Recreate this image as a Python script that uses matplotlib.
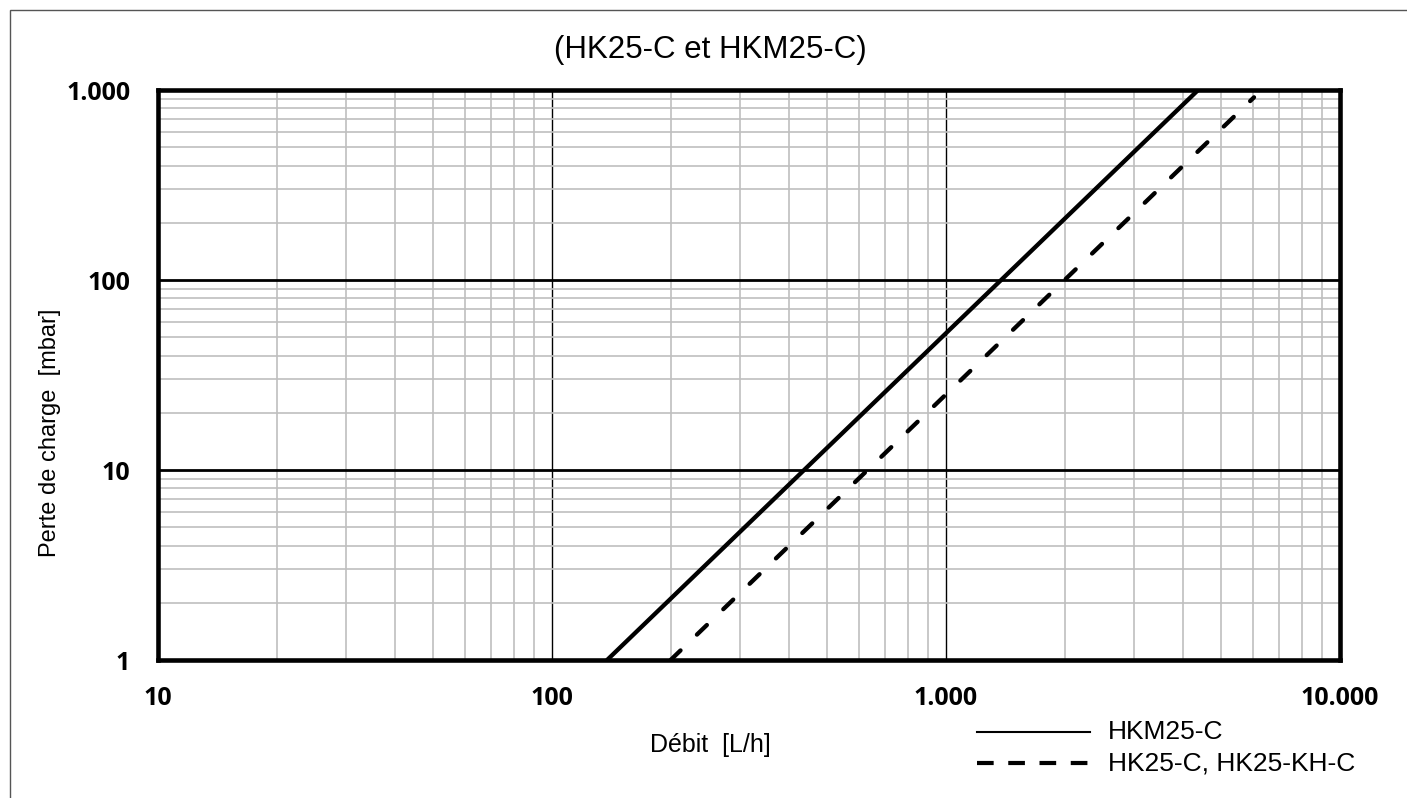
import matplotlib
matplotlib.use('Agg')
import matplotlib.pyplot as plt
import matplotlib.patches as ptc
from matplotlib.lines import Line2D
from matplotlib.ticker import LogLocator, FuncFormatter, NullFormatter

# data: flow [L/h] vs pressure loss [mbar]
hkm_flow = [138, 4365]
hkm_loss = [1, 1000]
hk_flow = [200, 6050]
hk_loss = [1, 915]

x_ticks = [10, 100, 1000, 10000]
y_ticks = [1, 10, 100, 1000]

title = '(HK25-C et HKM25-C)'
label_hkm = 'HKM25-C'
label_hk = 'HK25-C, HK25-KH-C'

W, H = 1407, 798
fig = plt.figure(figsize=(W / 100, H / 100), dpi=100)
fig.patch.set_facecolor('white')

def fx(px): return px / W
def fy(py): return 1 - py / H

ax = fig.add_axes([fx(158), fy(660), (1340 - 158) / W, (660 - 90) / H])
ax.set_xscale('log')
ax.set_yscale('log')
ax.set_xlim(10, 10000)
ax.set_ylim(1, 1000)

# grid: grey minor lines, black major ones
ax.xaxis.set_minor_locator(LogLocator(base=10, subs=range(2, 10)))
ax.yaxis.set_minor_locator(LogLocator(base=10, subs=range(2, 10)))
ax.xaxis.set_minor_formatter(NullFormatter())
ax.yaxis.set_minor_formatter(NullFormatter())
ax.grid(which='minor', axis='both', color='#bfbfbf', lw=1.2, zorder=0)
ax.grid(which='major', axis='x', color='black', lw=1.0, zorder=1)
ax.grid(which='major', axis='y', color='black', lw=2.0, zorder=1)
ax.set_axisbelow(True)

ax.plot(hkm_flow, hkm_loss, color='black', lw=3.1, solid_capstyle='round', zorder=3)
ax.plot(hk_flow, hk_loss, color='black', lw=3.1, dashes=(3.2, 5.3),
        dash_capstyle='round', zorder=3)

fmt = FuncFormatter(lambda v, p: f'{v:,.0f}'.replace(',', '.'))
ax.set_xticks(x_ticks)
ax.set_yticks(y_ticks)
ax.xaxis.set_major_formatter(fmt)
ax.yaxis.set_major_formatter(fmt)
ax.tick_params(which='both', length=0)
ax.tick_params(axis='x', pad=19)
ax.tick_params(axis='y', pad=20)
for t in ax.get_xticklabels() + ax.get_yticklabels():
    t.set_fontfamily('Open Sans')
    t.set_fontweight('bold')
    t.set_fontsize(18)

for s in ax.spines.values():
    s.set_linewidth(3.3)
    s.set_zorder(4)

fig.text(fx(710), fy(50), title, ha='center', va='center',
         family='Liberation Sans', fontsize=22.5)
fig.text(fx(710), fy(745), 'Débit  [L/h]', ha='center', va='center',
         family='Liberation Sans', fontsize=18)
fig.text(fx(50), fy(433), 'Perte de charge  [mbar]', ha='center', va='center',
         rotation=90, family='Liberation Sans', fontsize=17)

# legend drawn by hand below the plot
fig.add_artist(Line2D([fx(977), fx(1090)], [fy(732), fy(732)], color='black',
                      lw=1.5, transform=fig.transFigure))
fig.add_artist(Line2D([fx(977), fx(1088)], [fy(763), fy(763)], color='black',
                      lw=3, dashes=(4.0, 3.5), transform=fig.transFigure))
fig.text(fx(1108), fy(732), label_hkm, ha='left', va='center',
         family='Liberation Sans', fontsize=19)
fig.text(fx(1108), fy(763), label_hk, ha='left', va='center',
         family='Liberation Sans', fontsize=19)

# thin outer frame
fig.add_artist(ptc.Rectangle((fx(10), -0.1), 1.2, fy(10) + 0.1, fill=False,
                             edgecolor='#555555', lw=1, transform=fig.transFigure))

fig.savefig('out.png', dpi=100)
